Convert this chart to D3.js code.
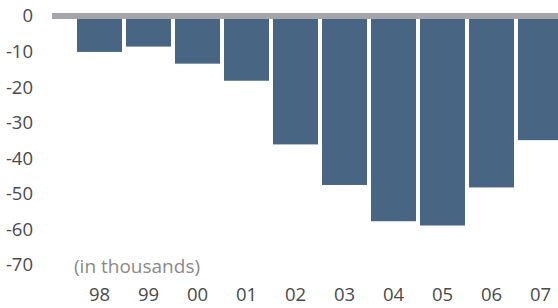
<!DOCTYPE html>
<html>
<head>
<meta charset="utf-8">
<script src="https://cdn.jsdelivr.net/npm/d3@7"></script>
<style>
  body { margin: 0; background: #fff; }
  text { font-family: "Open Sans", sans-serif; }
</style>
</head>
<body>
<div id="chart"></div>
<script>
const years = ['98', '99', '00', '01', '02', '03', '04', '05', '06', '07']
const values = [-10.1, -8.6, -13.4, -18.2, -36.1, -47.5, -57.7, -58.9, -48.2, -34.9]
const yTicks = [0, -10, -20, -30, -40, -50, -60, -70]
const unitLabel = '(in thousands)'

const width = 558, height = 308

const svg = d3.select('#chart').append('svg')
  .attr('width', width)
  .attr('height', height)

const x = d3.scaleBand()
  .domain(years)
  .range([75, 565])
  .paddingInner(4 / 49)
  .paddingOuter(2 / 49)

const y = d3.scaleLinear()
  .domain([0, -70])
  .range([16, 265])

svg.selectAll('.bar').data(values)
  .enter().append('rect')
  .attr('class', 'bar')
  .attr('x', (d, i) => x(years[i]))
  .attr('width', x.bandwidth())
  .attr('y', y(0))
  .attr('height', d => y(d) - y(0))
  .style('fill', '#486584')

// zero baseline
svg.append('rect')
  .attr('x', 52)
  .attr('y', y(0) - 3)
  .attr('width', width - 52)
  .attr('height', 6)
  .style('fill', '#a4a4a9')

// plain hyphen, not the unicode minus d3 uses
const yAxis = d3.axisLeft(y).tickValues(yTicks).tickSize(0).tickPadding(0)
  .tickFormat(d => String(d))
svg.append('g')
  .attr('transform', 'translate(33,0)')
  .call(yAxis)
  .call(g => g.select('.domain').remove())
  .selectAll('text')
  .attr('fill', '#4a4a4a')
  .style('font-size', '18.5px')

const xAxis = d3.axisBottom(x).tickSize(0).tickPadding(0)
svg.append('g')
  .attr('transform', 'translate(0,288)')
  .call(xAxis)
  .call(g => g.select('.domain').remove())
  .selectAll('text')
  .attr('fill', '#4a4a4a')
  .style('font-size', '18.5px')

svg.append('text')
  .attr('x', 74)
  .attr('y', 273)
  .attr('fill', '#8a8a8a')
  .style('font-size', '19px')
  .text(unitLabel)
</script>
</body>
</html>
